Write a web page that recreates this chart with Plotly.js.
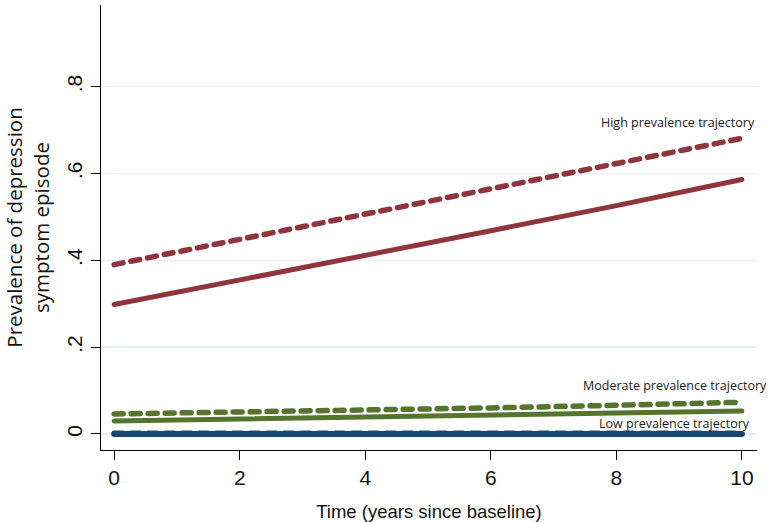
<!DOCTYPE html>
<html>
<head>
<meta charset="utf-8">
<script src="https://cdn.plot.ly/plotly-3.0.1.min.js"></script>
<style>html,body{margin:0;padding:0;background:#fff;}#chart{width:778px;height:522px;}
#chart .js-line{stroke-linecap:round;}</style>
</head>
<body>
<div id="chart"></div>
<script>
// Time points (years since baseline)
var years = [0, 2, 4, 6, 8, 10];

// Predicted prevalence
var highDashed = [0.390, 0.448, 0.506, 0.564, 0.622, 0.681];
var highSolid  = [0.298, 0.354, 0.411, 0.468, 0.526, 0.586];
var modDashed  = [0.046, 0.050, 0.055, 0.060, 0.066, 0.073];
var modSolid   = [0.030, 0.034, 0.038, 0.043, 0.048, 0.053];
var lowDashed  = [0.002, 0.002, 0.002, 0.002, 0.002, 0.002];
var lowSolid   = [0.000, 0.000, 0.000, 0.000, 0.000, 0.000];

var yTickVals  = [0, 0.2, 0.4, 0.6, 0.8];
var yTickText  = ['0', '.2', '.4', '.6', '.8'];
var xTickVals  = [0, 2, 4, 6, 8, 10];

var labelHigh = 'High prevalence trajectory';
var labelMod  = 'Moderate prevalence trajectory';
var labelLow  = 'Low prevalence trajectory';

var maroon = '#90353b', green = '#55752f', navy = '#1a476f';

function tr(y, color, dash, w) {
  return {x: years, y: y, type: 'scatter', mode: 'lines',
    line: {color: color, width: w, dash: dash}, hoverinfo: 'skip', showlegend: false};
}

var data = [
  tr(lowSolid, navy, 'solid', 6),
  tr(lowDashed, navy, '9px,8px', 5),
  tr(modSolid, green, 'solid', 5),
  tr(modDashed, green, '9px,8px', 5.5),
  tr(highSolid, maroon, 'solid', 5),
  tr(highDashed, maroon, '9px,8px', 5.5)
];

var annFont = {family: 'Open Sans, Noto Sans, sans-serif', size: 12.5, color: '#1a1a1a'};

var layout = {
  width: 778, height: 522,
  margin: {l: 101, r: 21, t: 5, b: 72, pad: 0},
  paper_bgcolor: '#ffffff', plot_bgcolor: '#ffffff',
  showlegend: false,
  xaxis: {
    range: [-0.21, 10.24],
    tickvals: xTickVals,
    ticks: 'outside', ticklen: 9, tickwidth: 1, tickcolor: '#000',
    showline: true, linecolor: '#000', linewidth: 1.2,
    showgrid: false, zeroline: false,
    tickfont: {family: 'Liberation Sans, Arial, sans-serif', size: 21, color: '#111'},
    title: {text: 'Time (years since baseline)', standoff: 16,
      font: {family: 'Liberation Sans, Arial, sans-serif', size: 18.5, color: '#111'}}
  },
  yaxis: {
    range: [-0.037, 0.988],
    tickvals: yTickVals, ticktext: yTickText,
    tickangle: -90,
    ticks: 'outside', ticklen: 9, tickwidth: 1, tickcolor: '#000',
    showline: true, linecolor: '#000', linewidth: 1.2,
    showgrid: true, gridcolor: '#e6eff1', gridwidth: 1.3,
    zeroline: false,
    tickfont: {family: 'Liberation Sans, Arial, sans-serif', size: 21, color: '#111'},
    title: {text: 'Prevalence of depression<br>symptom episode', standoff: 12,
      font: {family: 'Open Sans, Noto Sans, sans-serif', size: 20.5, color: '#111'}}
  },
  annotations: [
    {x: 8.98, y: 0.717, xref: 'x', yref: 'y', text: labelHigh, showarrow: false, font: annFont, xanchor: 'center', yanchor: 'middle'},
    {x: 8.93, y: 0.112, xref: 'x', yref: 'y', text: labelMod, showarrow: false, font: annFont, xanchor: 'center', yanchor: 'middle'},
    {x: 8.93, y: 0.023, xref: 'x', yref: 'y', text: labelLow, showarrow: false, font: annFont, xanchor: 'center', yanchor: 'middle'}
  ]
};

Plotly.newPlot('chart', data, layout, {staticPlot: true, displayModeBar: false});
</script>
</body>
</html>
